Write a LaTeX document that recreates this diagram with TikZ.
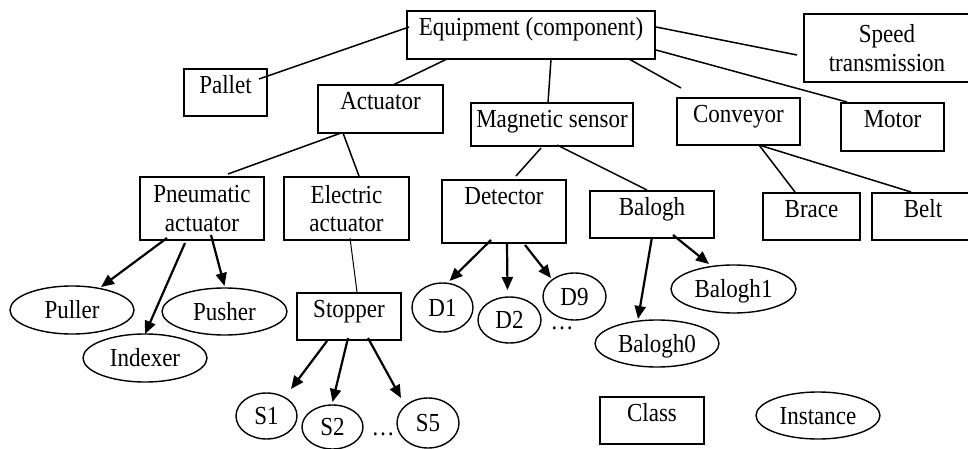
\documentclass[tikz,border=0pt]{standalone}
\usepackage{fontspec}
\setmainfont{Liberation Serif}[FakeStretch=0.885]
\usetikzlibrary{calc,shapes.geometric,arrows.meta}
\begin{document}
\begin{tikzpicture}[x=1pt,y=-1pt,
  every node/.style={font=\fontsize{26}{28.5}\selectfont},
  box/.style={draw,line width=1.4pt,inner sep=0pt,outer sep=0pt,text height=24.5pt},
  box2/.style={draw,line width=1.4pt,inner sep=0pt,outer sep=0pt,align=center},
  inst/.style={draw,ellipse,line width=1.4pt,inner sep=0pt,outer sep=0pt,text height=17.5pt,text depth=0pt},
  link/.style={line width=1.5pt},
  thin link/.style={line width=1pt},
  arr/.style={line width=2.2pt,-{Triangle[length=13pt,width=11pt]}},
  dots/.style={inner sep=0pt}
]
\useasboundingbox (0,0) rectangle (968,449);
% classes
\node[box,minimum width=248pt,text depth=23.5pt] (eq) at (531,35) {Equipment (component)};
\node[box,minimum width=83pt,text depth=22.5pt] (pallet) at (225.5,92.5) {Pallet};
\node[box,minimum width=125pt,text depth=23.5pt] (act) at (380.5,109) {Actuator};
\node[box,minimum width=162pt,text depth=18.5pt] (mag) at (552,124.5) {Magnetic sensor};
\node[box,minimum width=123pt,text depth=22.5pt] (conv) at (738.5,121.5) {Conveyor};
\node[box,minimum width=103pt,text depth=23.5pt] (motor) at (892.5,127) {Motor};
\node[box2,minimum width=166pt,minimum height=68pt] (speed) at (887,48) {Speed\\transmission};
\node[box2,minimum width=124pt,minimum height=63pt] (pneu) at (202,208.5) {Pneumatic\\actuator};
\node[box2,minimum width=125pt,minimum height=63pt] (elec) at (346.5,208.5) {Electric\\actuator};
\node[box,minimum width=124pt,text depth=38.5pt] (det) at (504,211.5) {Detector};
\node[box,minimum width=124pt,text depth=22.5pt] (balogh) at (652,214.5) {Balogh};
\node[box,minimum width=97pt,text depth=22.5pt] (brace) at (811.5,216.5) {Brace};
\node[box,minimum width=102pt,text depth=22.5pt] (belt) at (923,216.5) {Belt};
\node[box,minimum width=104pt,text depth=22.5pt] (stopper) at (349,316.5) {Stopper};
\node[box,minimum width=104pt,text depth=22.5pt] (class) at (652,420.5) {Class};
% instances
\node[inst,minimum width=124pt,minimum height=48pt] (puller) at (72,310) {Puller};
\node[inst,minimum width=125pt,minimum height=47pt] (pusher) at (224.5,311.5) {Pusher};
\node[inst,minimum width=124pt,minimum height=48pt] (indexer) at (145,358) {Indexer};
\node[inst,minimum width=61pt,minimum height=46pt] (s1) at (266.5,416) {S1};
\node[inst,minimum width=61pt,minimum height=44pt] (s2) at (332.5,427) {S2\hspace{12pt}};
\node[inst,minimum width=62pt,minimum height=50pt] (s5) at (428,423) {S5\hspace{6pt}};
\node[inst,minimum width=61pt,minimum height=49pt] (d1) at (442.5,307.5) {D1};
\node[inst,minimum width=63pt,minimum height=46pt] (d2) at (509.5,320) {D2};
\node[inst,minimum width=63pt,minimum height=47pt] (d9) at (574.5,296.5) {D9};
\node[inst,minimum width=125pt,minimum height=48pt] (b1) at (733.5,289) {Balogh1};
\node[inst,minimum width=124pt,minimum height=47pt] (b0) at (657,343.5) {Balogh0};
\node[inst,minimum width=124pt,minimum height=47pt] (instance) at (818,415.5) {Instance};
\node[dots] (dotsA) at (383,434) {\ldots};
\node[dots] (dotsB) at (562,328) {\ldots};
% class links
\draw[link] ($(eq.north west)+(2,16)$) -- ($(pallet.north west)+(75,10)$);
\draw[link] ($(eq.south west)+(40,0)$) -- ($(act.north west)+(75,0)$);
\draw[link] ($(eq.south west)+(144,0)$) -- ($(mag.north west)+(77,0)$);
\draw[link] ($(eq.south west)+(222,0)$) -- ($(conv.north west)+(4,-10)$);
\draw[link] ($(eq.north east)+(1,16)$) -- ($(speed.north west)+(-7,41)$);
\draw[link] ($(eq.north east)+(1,39)$) -- ($(motor.north west)+(6,-1)$);
\draw[link] ($(act.south west)+(23,0)$) -- ($(pneu.north west)+(88,-3)$);
\draw[link] ($(act.south west)+(25,0)$) -- ($(elec.north west)+(75,-1)$);
\draw[link] ($(mag.south west)+(70,2)$) -- ($(det.north west)+(74,-4)$);
\draw[link] ($(mag.south west)+(86,-1)$) -- ($(balogh.north west)+(57,-1)$);
\draw[link] ($(conv.south west)+(82,0)$) -- ($(brace.north west)+(32,-1)$);
\draw[link] ($(conv.south west)+(82,0)$) -- ($(belt.north west)+(39,-1)$);
\draw[thin link] ($(elec.south west)+(66,-2)$) -- ($(stopper.north west)+(60,-1)$);
% instance arrows
\draw[arr] ($(pneu.south west)+(27,-2)$) -- ($(puller.center)+(29,-23)$);
\draw[arr] ($(pneu.south west)+(45,3)$) -- (indexer.north);
\draw[arr] ($(pneu.south west)+(71,-5)$) -- ($(pusher.north)+(0,-2)$);
\draw[arr] ($(stopper.south west)+(30,1)$) -- ($(s1.center)+(24.5,-27)$);
\draw[arr] ($(stopper.south west)+(51,-2)$) -- ($(s2.north)+(0,-3)$);
\draw[arr] ($(stopper.south west)+(71,-2)$) -- ($(s5.center)+(-27,-25)$);
\draw[arr] ($(det.south west)+(49,-3)$) -- ($(d1.north)+(7,-2)$);
\draw[arr] ($(det.south west)+(65,1)$) -- ($(d2.north)+(-2,-7)$);
\draw[arr] ($(det.south west)+(83,2)$) -- ($(d9.center)+(-23.5,-18.5)$);
\draw[arr] ($(balogh.south west)+(62,-1)$) -- ($(b0.north)+(-19,-1)$);
\draw[arr] ($(balogh.south west)+(83,-3)$) -- ($(b1.north)+(-24.5,-1)$);
\end{tikzpicture}
\end{document}
